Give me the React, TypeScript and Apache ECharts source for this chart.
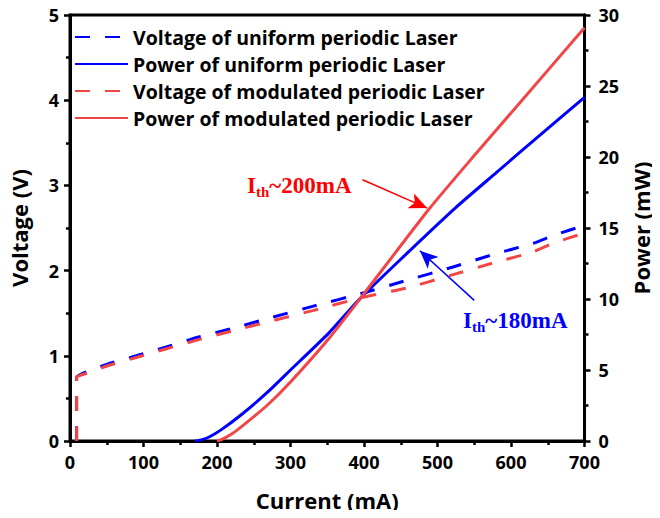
import React, { useEffect, useRef } from "react";
import * as echarts from "echarts";

const currentV = [9, 9, 14, 25, 50, 90, 130, 175, 220, 270, 330, 400, 460, 520, 580, 630, 660, 700];
const voltUniform = [0, 0.75, 0.78, 0.82, 0.9, 1.0, 1.1, 1.22, 1.32, 1.44, 1.58, 1.74, 1.89, 2.04, 2.2, 2.32, 2.42, 2.53];
const voltModulated = [0, 0.75, 0.77, 0.8, 0.88, 0.98, 1.08, 1.19, 1.29, 1.4, 1.53, 1.69, 1.8, 1.95, 2.1, 2.22, 2.33, 2.44];

const currentPU = [170, 180, 190, 206, 233, 268, 299, 352, 393, 450, 524, 580, 643, 700];
const powerUniform = [0, 0.1, 0.3, 0.8, 1.85, 3.4, 4.95, 7.6, 9.95, 12.8, 16.4, 18.9, 21.7, 24.2];
const currentPM = [200, 206, 220, 233, 268, 299, 352, 393, 488, 550, 620, 700];
const powerModulated = [0, 0.1, 0.5, 1.0, 2.5, 4.1, 7.2, 9.9, 16.3, 20.1, 24.3, 29.1];

const seriesNames = [
  "Voltage of uniform periodic Laser",
  "Power of uniform periodic Laser",
  "Voltage of modulated periodic Laser",
  "Power of modulated periodic Laser",
];

const BLUE = "#0000ff";
const RED = "#f24646";
const SANS = "'Open Sans', 'Noto Sans', sans-serif";
const SERIF = "'Liberation Serif', 'DejaVu Serif', serif";
const DASH = [15, 15];

const zip = (xs: number[], ys: number[]) => xs.map((x, i) => [x, ys[i]]);

export default function App() {
  const ref = useRef<HTMLDivElement>(null);
  useEffect(() => {
    if (!ref.current) return;
    const chart = echarts.init(ref.current, undefined, { renderer: "svg" });
    const axisLabel = { fontFamily: SANS, fontWeight: "bold", fontSize: 18, color: "#000" };
    const nameStyle = { fontFamily: SANS, fontWeight: "bold", fontSize: 22, color: "#000" };
    const axisLine = { show: true, lineStyle: { color: "#000", width: 3 } };
    const axisTick = { show: true, inside: false, length: 6, lineStyle: { color: "#000", width: 2.5 } };
    const minorTick = { show: true, splitNumber: 2, length: 4, lineStyle: { color: "#000", width: 2.5 } };
    chart.setOption({
      animation: false,
      grid: { left: 64, right: 67, top: 15, bottom: 77, show: true, borderColor: "#000", borderWidth: 3 },
      legend: {
        orient: "vertical",
        left: 69,
        top: 22,
        itemWidth: 53,
        itemHeight: 14,
        itemGap: 7,
        itemStyle: { opacity: 0 },
        textStyle: { fontFamily: SANS, fontWeight: "bold", fontSize: 19.5, color: "#000" },
        data: seriesNames,
      },
      xAxis: {
        type: "value",
        min: 0,
        max: 700,
        interval: 100,
        name: "Current (mA)",
        nameLocation: "middle",
        nameGap: 48,
        nameTextStyle: nameStyle,
        axisLine,
        axisTick,
        minorTick,
        axisLabel: { ...axisLabel, margin: 12 },
        splitLine: { show: false },
      },
      yAxis: [
        {
          type: "value",
          min: 0,
          max: 5,
          interval: 1,
          name: "Voltage (V)",
          nameLocation: "middle",
          nameGap: 40,
          nameTextStyle: nameStyle,
          axisLine,
          axisTick,
          minorTick,
          axisLabel: { ...axisLabel, margin: 11 },
          splitLine: { show: false },
        },
        {
          type: "value",
          position: "right",
          min: 0,
          max: 30,
          interval: 5,
          name: "Power (mW)",
          nameLocation: "middle",
          nameGap: 44,
          nameRotate: 90,
          nameTextStyle: nameStyle,
          axisLine,
          axisTick,
          minorTick,
          axisLabel: { ...axisLabel, margin: 14 },
          splitLine: { show: false },
        },
      ],
      series: [
        {
          name: seriesNames[0],
          type: "line",
          yAxisIndex: 0,
          showSymbol: false,
          symbol: "none",
          smooth: 0.2,
          data: zip(currentV, voltUniform),
          lineStyle: { color: BLUE, width: 3, type: DASH },
          itemStyle: { color: BLUE },
          z: 2,
        },
        {
          name: seriesNames[1],
          type: "line",
          yAxisIndex: 1,
          showSymbol: false,
          symbol: "none",
          smooth: 0.2,
          data: zip(currentPU, powerUniform),
          lineStyle: { color: BLUE, width: 3 },
          itemStyle: { color: BLUE },
          z: 2,
          markLine: {
            silent: true,
            symbol: ["none", "arrow"],
            symbolSize: [12, 18],
            label: { show: false },
            lineStyle: { color: BLUE, width: 1.5, type: "solid" },
            data: [[{ coord: [550, 9.9] }, { coord: [476, 13.4] }]],
          },
        },
        {
          name: seriesNames[2],
          type: "line",
          yAxisIndex: 0,
          showSymbol: false,
          symbol: "none",
          smooth: 0.2,
          data: zip(currentV, voltModulated),
          lineStyle: { color: RED, width: 3, type: DASH },
          itemStyle: { color: RED },
          z: 3,
        },
        {
          name: seriesNames[3],
          type: "line",
          yAxisIndex: 1,
          showSymbol: false,
          symbol: "none",
          smooth: 0.2,
          data: zip(currentPM, powerModulated),
          lineStyle: { color: RED, width: 3 },
          itemStyle: { color: RED },
          z: 3,
          markLine: {
            silent: true,
            symbol: ["none", "arrow"],
            symbolSize: [12, 18],
            label: { show: false },
            lineStyle: { color: "#ff0000", width: 1.5, type: "solid" },
            data: [[{ coord: [398, 18.4] }, { coord: [486, 16.4] }]],
          },
        },
      ],
      graphic: [
        {
          type: "text",
          left: 247,
          top: 174,
          style: {
            text: "{m|I}{s|th}{m|~200mA}",
            rich: {
              m: { fontFamily: SERIF, fontWeight: "bold", fontSize: 23, fill: "#ff0000" },
              s: { fontFamily: SERIF, fontWeight: "bold", fontSize: 15, fill: "#ff0000", padding: [13, 0, 0, 0] },
            },
          },
        },
        {
          type: "text",
          left: 463,
          top: 309,
          style: {
            text: "{m|I}{s|th}{m|~180mA}",
            rich: {
              m: { fontFamily: SERIF, fontWeight: "bold", fontSize: 23, fill: BLUE },
              s: { fontFamily: SERIF, fontWeight: "bold", fontSize: 15, fill: BLUE, padding: [13, 0, 0, 0] },
            },
          },
        },
      ],
    });
    return () => chart.dispose();
  }, []);
  return <div ref={ref} style={{ width: 660, height: 518, margin: -8 }} />;
}
